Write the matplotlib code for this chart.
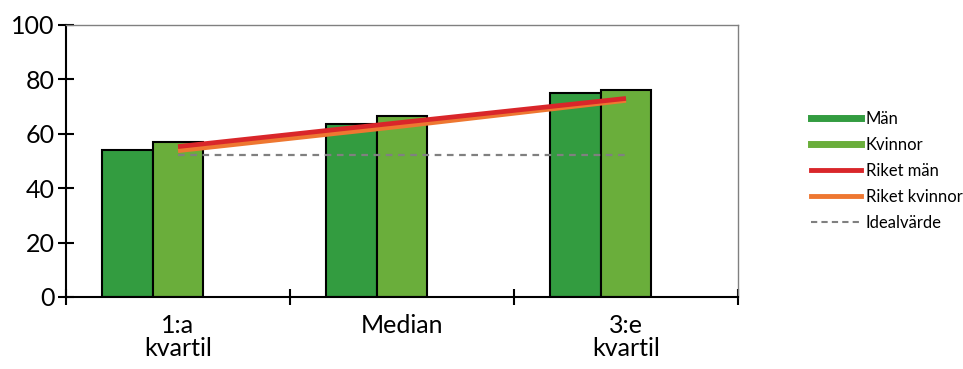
import matplotlib
matplotlib.use("Agg")
import matplotlib.pyplot as plt
import numpy as np
from matplotlib.lines import Line2D

categories = ["1:a\nkvartil", "Median", "3:e\nkvartil"]
man = [54.0, 63.6, 75.0]
kvinnor = [57.0, 66.5, 76.0]
riket_man = [55.3, 64.2, 73.0]
riket_kvinnor = [53.8, 62.8, 72.3]
ideal = [52.3, 52.3, 52.3]

c_man = "#339c40"
c_kv = "#6aae3b"
c_rm = "#d9262a"
c_rk = "#ee7731"
c_id = "#808080"

plt.rcParams['font.family'] = ['Lato', 'DejaVu Sans']

fig = plt.figure(figsize=(9.63, 3.69), dpi=100)
ax = fig.add_axes([66/963, 72/369, (738-66)/963, (297-25)/369])

x = np.arange(len(categories))
w = 0.226
ax.bar(x - w, man, width=w, align='center', color=c_man, edgecolor='black', linewidth=1.5, zorder=2)
ax.bar(x, kvinnor, width=w, align='center', color=c_kv, edgecolor='black', linewidth=1.5, zorder=2)
ax.plot(x, ideal, color=c_id, linestyle=(0, (3, 2.5)), linewidth=1.6, zorder=3)
ax.plot(x, riket_kvinnor, color=c_rk, linewidth=3.4, zorder=4, solid_capstyle='butt')
ax.plot(x, riket_man, color=c_rm, linewidth=3.4, zorder=5, solid_capstyle='butt')

ax.set_xlim(-0.5, 2.5)
ax.set_ylim(0, 100)
ax.set_yticks([0, 20, 40, 60, 80, 100])
ax.set_xticks([-0.5, 0.5, 1.5, 2.5])
ax.set_xticklabels([])
ax.set_xticks(x, minor=True)
ax.set_xticklabels(categories, minor=True, fontsize=18, linespacing=1.0)
ax.tick_params(axis='x', which='minor', length=0, pad=12)
ax.tick_params(axis='x', which='major', direction='inout', length=12, width=1.5)
ax.tick_params(axis='y', direction='inout', length=12, width=1.5, labelsize=18, pad=2)

for s in ['left', 'bottom']:
    ax.spines[s].set_color('black')
    ax.spines[s].set_linewidth(1.5)
for s in ['top', 'right']:
    ax.spines[s].set_color('#808080')
    ax.spines[s].set_linewidth(1.0)

handles = [
    Line2D([], [], color=c_man, linewidth=5),
    Line2D([], [], color=c_kv, linewidth=5),
    Line2D([], [], color=c_rm, linewidth=3.5),
    Line2D([], [], color=c_rk, linewidth=3.5),
    Line2D([], [], color=c_id, linewidth=1.5, linestyle=(0, (3, 2))),
]
labels = ["Män", "Kvinnor", "Riket män", "Riket kvinnor", "Idealvärde"]
fig.legend(handles, labels, loc='upper left', bbox_to_anchor=(804/963, 1 - 104/369),
           frameon=False, fontsize=12, handlelength=3.0, handletextpad=0.3,
           labelspacing=0.6, borderaxespad=0)

fig.savefig("out.png", dpi=100)
